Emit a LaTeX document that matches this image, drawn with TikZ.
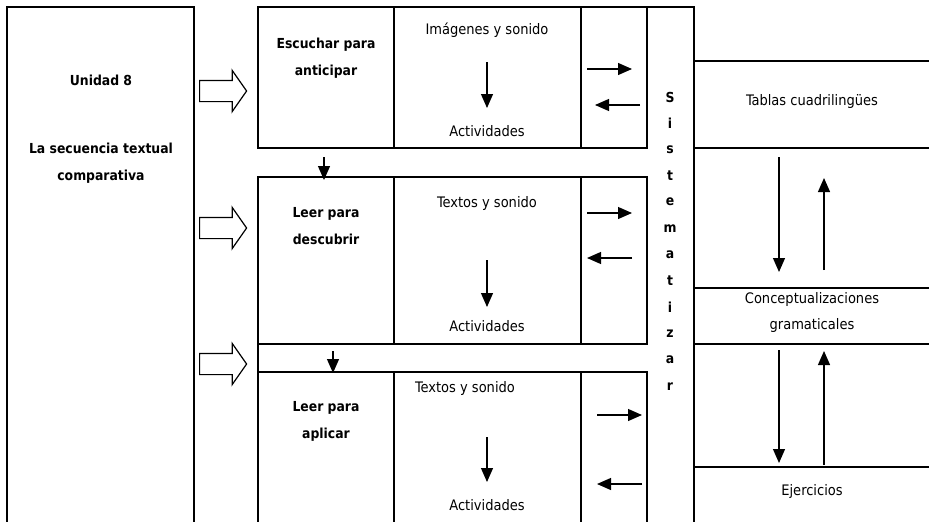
\documentclass[tikz,border=0pt]{standalone}
\usepackage{fontspec}
\setmainfont{DejaVu Sans Condensed}
\usetikzlibrary{arrows.meta,shapes.arrows}

\tikzset{
  frame/.style={line width=2pt},
  flow/.style={line width=1.2pt,-{Triangle[length=14pt,width=12pt]}},
  bigarrow/.style={single arrow,draw,line width=1.2pt,inner sep=10pt,
    minimum height=47pt,single arrow head extend=10pt,
    single arrow tip angle=110,single arrow head indent=0pt,anchor=west},
  label/.style={align=center,font=\fontsize{14.5}{26}\selectfont},
  title/.style={align=center,font=\fontsize{13.8}{27}\selectfont\bfseries}
}

\begin{document}
\begin{tikzpicture}[x=1pt,y=-1pt]
\useasboundingbox (0,0) rectangle (929,522);

% left column and the three rows
\draw[frame] (7,522) -- (7,7) -- (194,7) -- (194,522);
\draw[frame] (257.5,7) rectangle (647,148)
             (394,7) -- (394,148) (581,7) -- (581,148)
             (647,7) -- (694,7) -- (694,522);
\draw[frame] (257.5,177) rectangle (647,344)
             (394,177) -- (394,344) (581,177) -- (581,344)
             (257.5,344) -- (257.5,372);
\draw[frame] (647,522) -- (647,372) -- (257.5,372) -- (257.5,522)
             (394,372) -- (394,522) (581,372) -- (581,522);
\foreach \y in {61,148,288,344,467}
  \draw[frame] (694,\y) -- (929,\y);

% texts
\node (unidad) [title] at (101,80) {Unidad 8};
\node (secuencia) [title] at (101,163) {La secuencia textual\\comparativa};
\node (escuchar) [title] at (326,58) {Escuchar para\\anticipar};
\node (descubrir) [title] at (326,226) {Leer para\\descubrir};
\node (aplicar) [title] at (326,421) {Leer para\\aplicar};
\node (img1) [label] at (487,30) {Imágenes y sonido};
\node (act1) [label] at (487,131) {Actividades};
\node (txt2) [label] at (487,203) {Textos y sonido};
\node (act2) [label] at (487,326) {Actividades};
\node (txt3) [label] at (465,388) {Textos y sonido};
\node (act3) [label] at (487,505) {Actividades};
\node (tablas) [label] at (812,101) {Tablas cuadrilingües};
\node (concep) [label] at (812,312) {Conceptualizaciones\\gramaticales};
\node (ejer) [label] at (812,491) {Ejercicios};
\foreach \l [count=\i from 0] in {S,i,s,t,e,m,a,t,i,z,a,r}
  \node (sis\i) [title] at (670,97+26.3*\i) {\l};

% hollow arrows into the rows
\node (big1) [bigarrow] at (199,91) {};
\node (big2) [bigarrow] at (199,228) {};
\node (big3) [bigarrow] at (199,364) {};

% small arrows
\foreach \xa/\ya/\xb/\yb in {487/62/487/108,487/260/487/307,487/437/487/482,
    324/157/324/180,333/351/333/373,
    587/69/632/69,640/105/595/105,587/213/632/213,632/258/587/258,
    597/415/642/415,642/484/597/484,
    779/157/779/272,824/270/824/178,779/350/779/463,824/465/824/351}
  \draw[flow] (\xa,\ya) -- (\xb,\yb);
\end{tikzpicture}
\end{document}
